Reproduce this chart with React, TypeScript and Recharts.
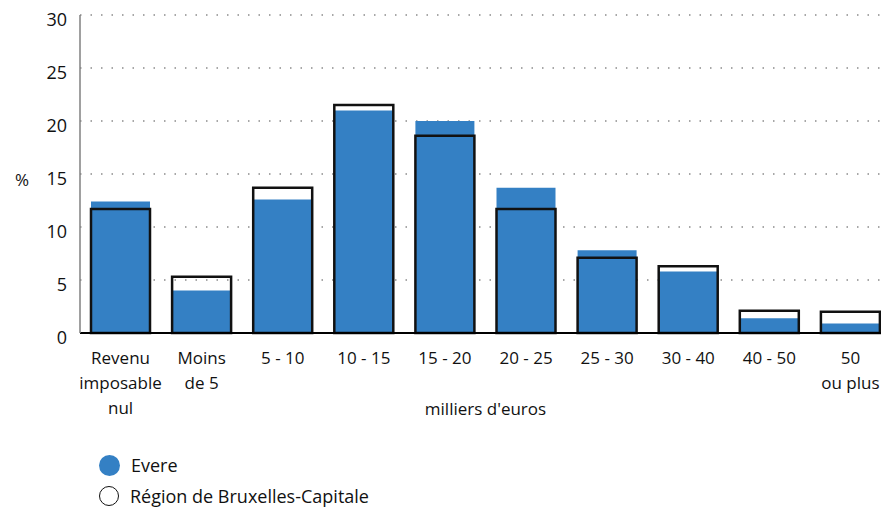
import { BarChart, Bar, XAxis, YAxis, CartesianGrid } from "recharts";

const categories = [
  "Revenu\nimposable\nnul",
  "Moins\nde 5",
  "5 - 10",
  "10 - 15",
  "15 - 20",
  "20 - 25",
  "25 - 30",
  "30 - 40",
  "40 - 50",
  "50\nou plus",
];
const evere = [12.4, 4.0, 12.6, 21.0, 20.0, 13.7, 7.8, 5.8, 1.4, 0.9];
const region = [11.7, 5.3, 13.7, 21.5, 18.6, 11.7, 7.1, 6.3, 2.1, 2.0];
const yTicks = [0, 5, 10, 15, 20, 25, 30];

const BLUE = "#3480C4";
const FONT = "'Open Sans', sans-serif";

const data = categories.map((name, i) => ({
  name,
  evere: evere[i],
  region: region[i],
}));

function CategoryTick({ x, y, payload }: any) {
  const lines = String(payload.value).split("\n");
  return (
    <text
      x={x}
      y={y}
      textAnchor="middle"
      fill="#111"
      fontSize={17}
      fontFamily={FONT}
    >
      {lines.map((line, i) => (
        <tspan key={i} x={x} dy={i === 0 ? 23 : 25}>
          {line}
        </tspan>
      ))}
    </text>
  );
}

export default function App() {
  return (
    <div style={{ position: "absolute", left: 0, top: 0, width: 881, height: 508, background: "#fff" }}>
      <BarChart
        width={881}
        height={508}
        data={data}
        margin={{ top: 15, right: -10, bottom: 0, left: 0 }}
        barSize={59}
        barGap={-59}
      >
        <CartesianGrid
          vertical={false}
          stroke="#8a8a8a"
          strokeDasharray="1.5 9"
          strokeWidth={1.3}
        />
        <XAxis
          dataKey="name"
          height={175}
          interval={0}
          tickLine={false}
          axisLine={{ stroke: "#000", strokeWidth: 2 }}
          tick={<CategoryTick />}
          label={{
            content: ({ viewBox }: any) => (
              <text
                x={viewBox.x + viewBox.width / 2}
                y={viewBox.y + 82}
                textAnchor="middle"
                fill="#111"
                fontSize={17}
                fontFamily={FONT}
              >
                milliers d'euros
              </text>
            ),
          }}
        />
        <YAxis
          width={80}
          domain={[0, 30]}
          ticks={yTicks}
          tickLine={false}
          tickSize={0}
          tickMargin={13}
          axisLine={{ stroke: "#808080", strokeWidth: 1.5 }}
          tick={{ fill: "#111", fontSize: 18, fontFamily: FONT, dy: 5 }}
          label={{
            content: ({ viewBox }: any) => (
              <text
                x={22}
                y={viewBox.y + viewBox.height / 2 + 12}
                textAnchor="middle"
                fill="#111"
                fontSize={17}
                fontFamily={FONT}
              >
                %
              </text>
            ),
          }}
        />
        <Bar dataKey="evere" name="Evere" fill={BLUE} isAnimationActive={false} />
        <Bar
          dataKey="region"
          name="Région de Bruxelles-Capitale"
          fill="none"
          stroke="#111"
          strokeWidth={2.5}
          isAnimationActive={false}
        />
      </BarChart>
      <div style={{ position: "absolute", left: 99, top: 453, height: 24, lineHeight: "24px", display: "flex", alignItems: "center", fontFamily: FONT, fontSize: 18, color: "#111", whiteSpace: "nowrap" }}>
        <span style={{ width: 21, height: 21, borderRadius: 11, background: BLUE, display: "inline-block", marginRight: 11 }} />
        Evere
      </div>
      <div style={{ position: "absolute", left: 99, top: 484, height: 24, lineHeight: "24px", display: "flex", alignItems: "center", fontFamily: FONT, fontSize: 18, color: "#111", whiteSpace: "nowrap" }}>
        <span style={{ width: 18, height: 18, borderRadius: 10, border: "1.6px solid #111", display: "inline-block", marginRight: 11 }} />
        Région de Bruxelles-Capitale
      </div>
    </div>
  );
}
